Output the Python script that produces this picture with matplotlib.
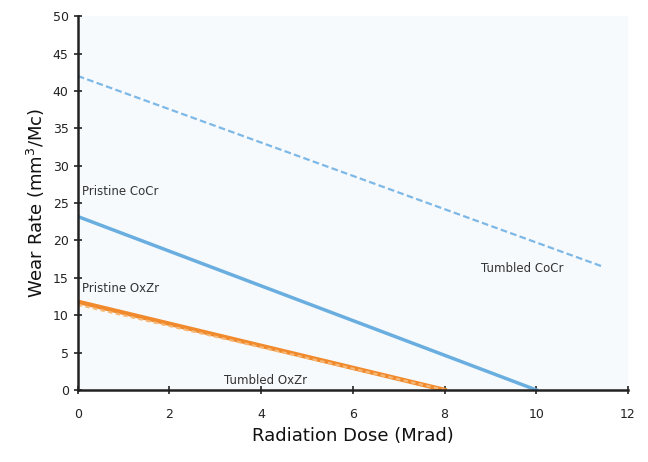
import numpy as np
import matplotlib.pyplot as plt

# Datos (dosis en Mrad, tasa de desgaste en mm3/Mc)
dosis_tumbled_cocr = [0, 11.45]
desgaste_tumbled_cocr = [42.0, 16.5]

dosis_pristine_cocr = [0, 10]
desgaste_pristine_cocr = [23.2, 0]

dosis_pristine_oxzr = [0, 8]
desgaste_pristine_oxzr = [11.8, 0]

dosis_tumbled_oxzr = [0, 8]
desgaste_tumbled_oxzr = [11.4, 0]

fig = plt.figure(figsize=(6.48, 4.62), dpi=100)
ax = fig.add_axes([0.12, 0.156, 0.849, 0.809])

# fondo suave
ax.set_facecolor('#f7fafd')
fig.patch.set_facecolor('white')

ax.plot(dosis_tumbled_cocr, desgaste_tumbled_cocr, color='#7db8e6',
        linestyle=(0, (3, 1.5)), linewidth=1.6)
ax.plot(dosis_pristine_cocr, desgaste_pristine_cocr, color='#6aaee0',
        linewidth=2.5)
ax.plot(dosis_pristine_oxzr, desgaste_pristine_oxzr, color='#f08a2c',
        linewidth=3.2)
ax.plot(dosis_tumbled_oxzr, desgaste_tumbled_oxzr, color='#f6b877',
        linestyle=(0, (2, 1.5)), linewidth=1.6)

# Etiquetas de las series
ax.text(0.1, 26.5, 'Pristine CoCr', fontsize=8.5, color='#333333', va='center')
ax.text(0.1, 13.6, 'Pristine OxZr', fontsize=8.5, color='#333333', va='center')
ax.text(8.8, 16.2, 'Tumbled CoCr', fontsize=8.5, color='#333333', va='center')
ax.text(3.2, 1.3, 'Tumbled OxZr', fontsize=8.5, color='#333333', va='center')

ax.set_xlim(0, 12)
ax.set_ylim(0, 50)
ax.set_xticks(range(0, 13, 2))
ax.set_yticks(range(0, 51, 5))

for lado in ['top', 'right']:
    ax.spines[lado].set_visible(False)
for lado in ['left', 'bottom']:
    ax.spines[lado].set_linewidth(1.8)
    ax.spines[lado].set_color('#222222')

ax.tick_params(axis='both', direction='inout', length=6, width=1.2,
               labelsize=9, colors='#222222')
ax.tick_params(axis='x', pad=10)
ax.set_xlabel('Radiation Dose (Mrad)', fontsize=13, color='#111111')
ax.set_ylabel('Wear Rate (mm$^3$/Mc)', fontsize=13, color='#111111')

fig.savefig('out.png', dpi=100)
